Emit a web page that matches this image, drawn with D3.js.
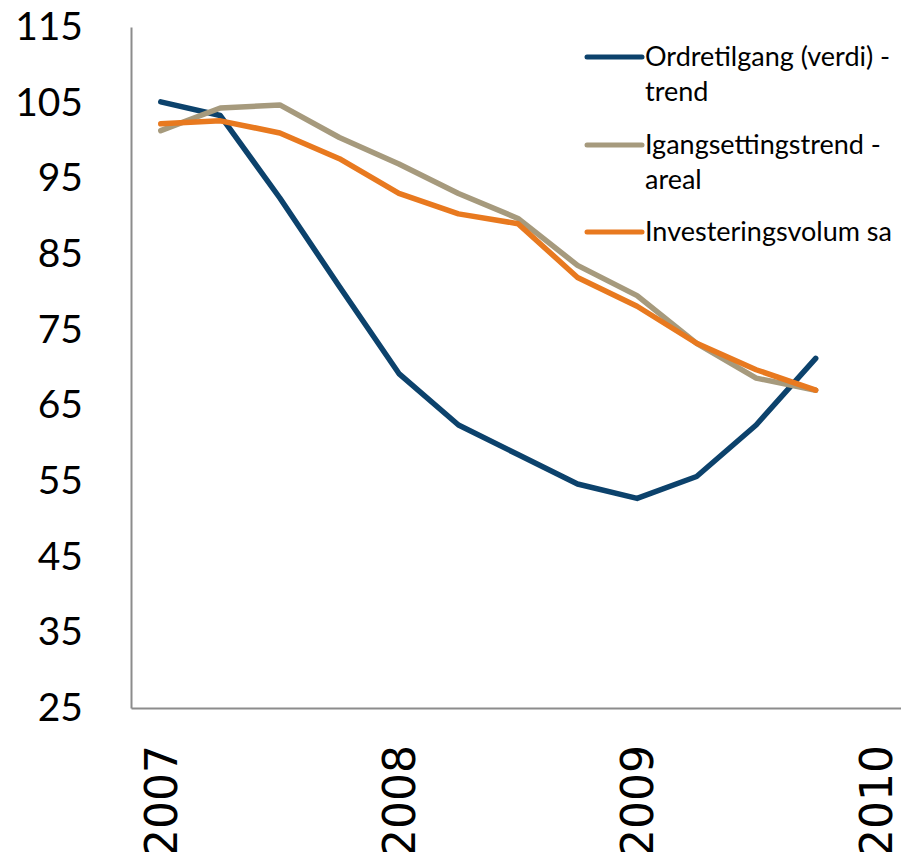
<!DOCTYPE html>
<html>
<head>
<meta charset="utf-8">
<script src="https://cdn.jsdelivr.net/npm/d3@7"></script>
<style>
  body { margin: 0; background: #fff; }
  svg { display: block; }
  .axis path { stroke: #8c8c8c; stroke-width: 2px; }
  .axis line { display: none; }
</style>
</head>
<body>
<script>
// quarterly observations, 2007K1 .. 2009K4
var quarters = ["2007K1","2007K2","2007K3","2007K4","2008K1","2008K2","2008K3","2008K4","2009K1","2009K2","2009K3","2009K4"];
var ordretilgang = [105.1, 103.3, 92.4, 80.7, 69.2, 62.4, 58.5, 54.6, 52.7, 55.6, 62.4, 71.2];
var igangsetting = [101.3, 104.3, 104.7, 100.4, 96.9, 93.0, 89.7, 83.5, 79.5, 73.2, 68.6, 67.0];
var investering  = [102.2, 102.6, 101.0, 97.6, 93.0, 90.3, 89.0, 81.9, 78.1, 73.2, 69.7, 67.0];
var yearLabels = ["2007", "2008", "2009", "2010"];
var yTicks = [25, 35, 45, 55, 65, 75, 85, 95, 105, 115];

var series = [
  {name: ["Ordretilgang (verdi) -", "trend"], values: ordretilgang, color: "#0c426c"},
  {name: ["Igangsettingstrend -", "areal"], values: igangsetting, color: "#a69a7d"},
  {name: ["Investeringsvolum sa"], values: investering, color: "#e8791f"}
];

var width = 901, height = 852;
var x0 = 131, yTop = 27, yBot = 708;

var svg = d3.select("body").append("svg")
    .attr("width", width)
    .attr("height", height);

var xScale = d3.scaleLinear()
    .domain([-0.5, 12.5])
    .range([x0, 905]);
var yScale = d3.scaleLinear()
    .domain([25, 115])
    .range([yBot, yTop]);

// y axis
var yAxis = svg.append("g")
    .attr("class", "axis axis--y")
    .attr("transform", "translate(" + x0 + ",0)")
    .call(d3.axisLeft(yScale).tickValues(yTicks).tickSize(0).tickPadding(48).tickSizeOuter(0));
yAxis.selectAll("text")
    .attr("font-family", "Lato, 'Open Sans', sans-serif")
    .attr("font-size", "39px")
    .attr("fill", "#000");

// x axis, year labels turned upright
var xAxis = svg.append("g")
    .attr("class", "axis axis--x")
    .attr("transform", "translate(0," + yBot + ")")
    .call(d3.axisBottom(xScale).tickValues([0, 4, 8, 12]).tickSize(0).tickSizeOuter(0)
      .tickFormat(function(d, i) { return yearLabels[i]; }));
xAxis.selectAll("text")
    .attr("font-family", "'DejaVu Sans', sans-serif")
    .attr("font-size", "44px")
    .attr("fill", "#000")
    .attr("text-anchor", "end")
    .attr("transform", "translate(0,37) rotate(-90)")
    .attr("y", 0)
    .attr("x", 0)
    .attr("dy", "0.36em");

// lines
var line = d3.line()
    .x(function(d, i) { return xScale(i); })
    .y(function(d) { return yScale(d); });

svg.selectAll(".line")
  .data(series)
  .enter().append("path")
    .attr("class", "line")
    .attr("fill", "none")
    .attr("stroke", function(d) { return d.color; })
    .attr("stroke-width", 5.5)
    .attr("stroke-linecap", "round")
    .attr("stroke-linejoin", "round")
    .attr("d", function(d) { return line(d.values); });

// legend
var legendY = [57, 145, 232];
var legend = svg.selectAll(".legend")
  .data(series)
  .enter().append("g")
    .attr("class", "legend")
    .attr("transform", function(d, i) { return "translate(587," + legendY[i] + ")"; });

legend.append("line")
    .attr("x1", 0).attr("x2", 55)
    .attr("stroke", function(d) { return d.color; })
    .attr("stroke-width", 5)
    .attr("stroke-linecap", "round");

legend.append("text")
    .attr("font-family", "Lato, 'Open Sans', sans-serif")
    .attr("font-size", "27px")
    .attr("fill", "#000")
    .selectAll("tspan")
    .data(function(d) { return d.name; })
    .enter().append("tspan")
      .attr("x", 58)
      .attr("y", function(d, i) { return i * 35; })
      .attr("dy", "0.35em")
      .text(function(d) { return d; });
</script>
</body>
</html>
